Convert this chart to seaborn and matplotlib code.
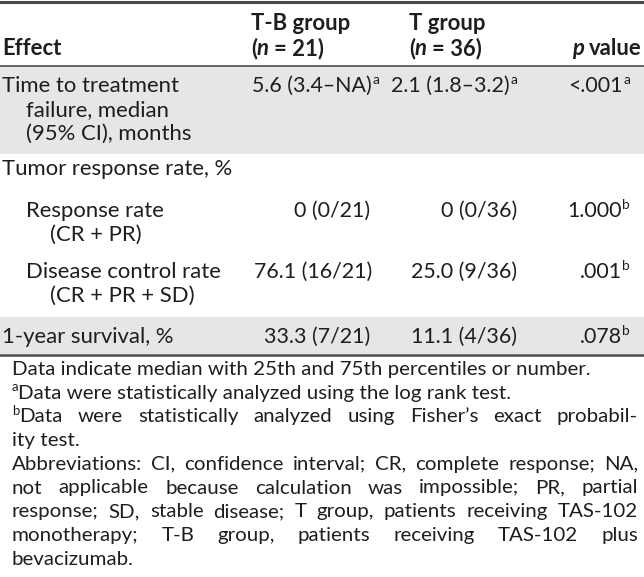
import matplotlib
matplotlib.use("Agg")
import matplotlib.pyplot as plt
import seaborn as sns

# table content
effect_labels = [
    ["Time to treatment", "failure, median", "(95% CI), months"],
    ["Tumor response rate, %"],
    ["Response rate", "(CR + PR)"],
    ["Disease control rate", "(CR + PR + SD)"],
    ["1-year survival, %"],
]
effect_levels = [0, 0, 1, 1, 0]
tb_values = ["5.6 (3.4–NA)", "", "0 (0/21)", "76.1 (16/21)", "33.3 (7/21)"]
tb_marks = ["a", "", "", "", ""]
t_values = ["2.1 (1.8–3.2)", "", "0 (0/36)", "25.0 (9/36)", "11.1 (4/36)"]
t_marks = ["a", "", "", "", ""]
p_values = ["<.001", "", "1.000", ".001", ".078"]
p_marks = ["a", "", "b", "b", "b"]
group_names = ["T-B group", "T group"]
group_n = ["21", "36"]
shaded_rows = [0, 4]

footnotes = [
    ("", "Data indicate median with 25th and 75th percentiles or number.", False),
    ("a", "Data were statistically analyzed using the log rank test.", False),
    ("b", "Data were statistically analyzed using Fisher’s exact probabil-", True),
    ("", "ity test.", False),
    ("", "Abbreviations: CI, confidence interval; CR, complete response; NA,", True),
    ("", "not applicable because calculation was impossible; PR, partial", True),
    ("", "response; SD, stable disease; T group, patients receiving TAS-102", True),
    ("", "monotherapy; T-B group, patients receiving TAS-102 plus", True),
    ("", "bevacizumab.", False),
]

# layout (pixels)
W, H = 644, 577
row_base = [92, 175, 217, 278, 343]
row_band = {0: (66.5, 154), 4: (317, 353.5)}
line_gap = 24
label_x = [2, 26]
indent = 24
tb_right = [379, None, 370, 372, 370]
t_right = 517
p_right = 630
group_x = [251, 409]
foot_left, foot_right = 12, 638
foot_base0, foot_gap = 375, 23.7
TXT = "#1e1e1e"
LINE = "#4a4a4a"
BAND = "#e6e6e6"

sns.set_theme(style="white")
plt.rcParams["font.family"] = ["Lato", "DejaVu Sans"]

fig = plt.figure(figsize=(W / 100, H / 100), dpi=100)
ax = fig.add_axes([0, 0, 1, 1])
ax.set_xlim(0, W)
ax.set_ylim(H, 0)
ax.axis("off")
renderer = fig.canvas.get_renderer()


def width_of(s, size, weight="normal", style="normal"):
    a = ax.text(0, 0, "|" + s + "|", fontsize=size, fontweight=weight, fontstyle=style)
    b = ax.text(0, 0, "||", fontsize=size, fontweight=weight, fontstyle=style)
    w = a.get_window_extent(renderer).width - b.get_window_extent(renderer).width
    a.remove()
    b.remove()
    return w


# footnote size: the abbreviations line nearly fills the width at normal spacing
foot_fs = 12 * 596 / width_of(footnotes[4][1], 12)
body_fs = foot_fs * 1.08
value_fs = body_fs * 0.97


def put_runs(x, y, runs, fs, ha="left"):
    sup_fs = fs * 0.64
    sup_dy = fs * 100 / 72 * 0.36
    sizes = [sup_fs if sup else fs for _, _, _, sup in runs]
    total = sum(width_of(s, sz, wt, st) for (s, wt, st, _), sz in zip(runs, sizes))
    cx = x - total if ha == "right" else x
    for (s, wt, st, sup), size in zip(runs, sizes):
        yy = y - sup_dy if sup else y
        body = s.strip(" ")
        lead = s[:len(s) - len(s.lstrip(" "))]
        off = width_of(lead, size, wt, st) if lead else 0
        if body:
            ax.text(cx + off, yy, body, fontsize=size, fontweight=wt, fontstyle=st,
                    va="baseline", ha="left", color=TXT)
        cx += width_of(s, size, wt, st)
    return cx


def value_runs(val, mark):
    runs = [(val, "normal", "normal", False)]
    if mark:
        runs.append((mark, "normal", "normal", True))
    return runs


# row bands and rules
for r in shaded_rows:
    top, bottom = row_band[r]
    ax.axhspan(top, bottom, color=BAND, lw=0, zorder=0)
ax.axhline(1.5, color=LINE, lw=2.2)
ax.axhline(66, color=LINE, lw=1.2)
ax.axhline(354.5, color=LINE, lw=1.8)

# header
put_runs(label_x[0], 55, [("Effect", "bold", "normal", False)], body_fs)
for gx, name, n in zip(group_x, group_names, group_n):
    put_runs(gx, 30, [(name, "bold", "normal", False)], body_fs)
    put_runs(gx, 55, [("(", "bold", "normal", False), ("n", "bold", "italic", False),
                      (" = " + n + ")", "bold", "normal", False)], body_fs)
put_runs(642, 55, [("p", "bold", "italic", False), (" value", "bold", "normal", False)],
         body_fs, ha="right")

# body
for i, lines in enumerate(effect_labels):
    base = row_base[i]
    x0 = label_x[effect_levels[i]]
    for j, line in enumerate(lines):
        put_runs(x0 + (indent if j else 0), base + j * line_gap,
                 [(line, "normal", "normal", False)], body_fs)
    if tb_values[i]:
        put_runs(tb_right[i], base, value_runs(tb_values[i], tb_marks[i]), value_fs, ha="right")
    if t_values[i]:
        put_runs(t_right, base, value_runs(t_values[i], t_marks[i]), value_fs, ha="right")
    if p_values[i]:
        put_runs(p_right, base, value_runs(p_values[i], p_marks[i]), value_fs, ha="right")

# footnotes
for k, (mark, text, justified) in enumerate(footnotes):
    y = foot_base0 + k * foot_gap
    x = foot_left
    if mark:
        x = put_runs(x, y, [(mark, "normal", "normal", True)], foot_fs)
    if not justified:
        put_runs(x, y, [(text, "normal", "normal", False)], foot_fs)
        continue
    words = text.split(" ")
    widths = [width_of(w_, foot_fs) for w_ in words]
    gap = (foot_right - x - sum(widths)) / (len(words) - 1)
    for w_, ww in zip(words, widths):
        put_runs(x, y, [(w_, "normal", "normal", False)], foot_fs)
        x += ww + gap

fig.savefig("out.png", dpi=100)
